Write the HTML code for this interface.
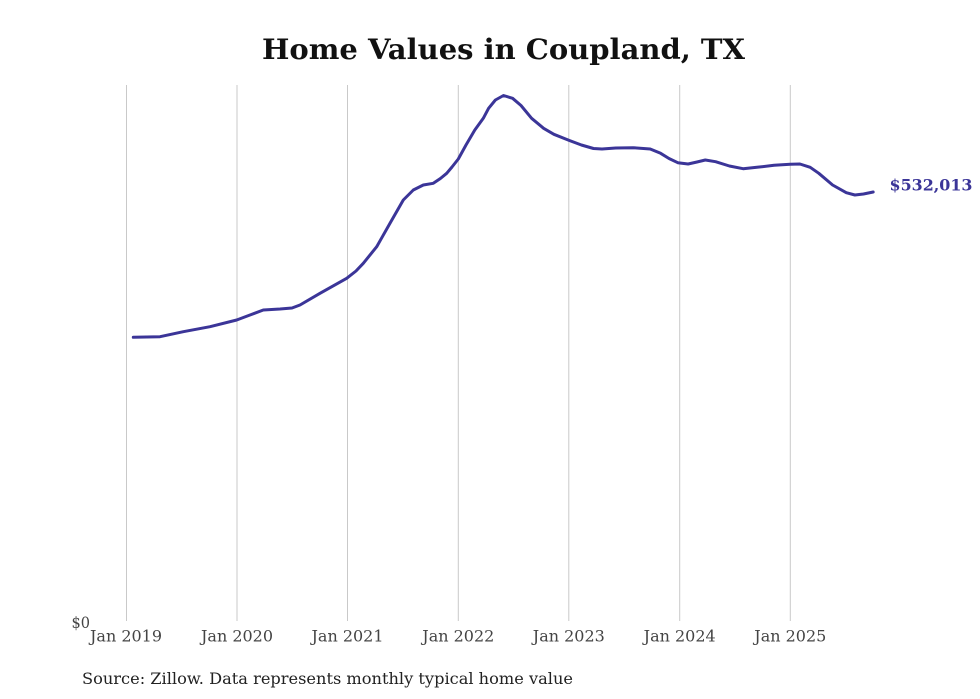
<!DOCTYPE html>
<html>
<head>
<meta charset="utf-8">
<style>
  html,body{margin:0;padding:0;background:#fff;}
  svg{display:block;}
  text{font-family:"DejaVu Serif","Liberation Serif",serif;}
</style>
</head>
<body>
<svg width="980" height="699" viewBox="0 0 980 699" xmlns="http://www.w3.org/2000/svg">
  <rect width="980" height="699" fill="#fff"/>
  <text x="503.5" y="59" font-size="28" font-weight="bold" text-anchor="middle" fill="#111" textLength="483" lengthAdjust="spacingAndGlyphs">Home Values in Coupland, TX</text>

  <g stroke="#c9c9c9" stroke-width="1">
    <line x1="126.5" y1="85" x2="126.5" y2="621"/>
    <line x1="237" y1="85" x2="237" y2="621"/>
    <line x1="347.5" y1="85" x2="347.5" y2="621"/>
    <line x1="458.3" y1="85" x2="458.3" y2="621"/>
    <line x1="568.8" y1="85" x2="568.8" y2="621"/>
    <line x1="679.7" y1="85" x2="679.7" y2="621"/>
    <line x1="790.3" y1="85" x2="790.3" y2="621"/>
  </g>

  <g font-size="15.5" fill="#444" text-anchor="middle">
    <text x="126" y="641.5" textLength="72" lengthAdjust="spacingAndGlyphs">Jan 2019</text>
    <text x="237" y="641.5" textLength="72" lengthAdjust="spacingAndGlyphs">Jan 2020</text>
    <text x="347.5" y="641.5" textLength="72" lengthAdjust="spacingAndGlyphs">Jan 2021</text>
    <text x="458.3" y="641.5" textLength="72" lengthAdjust="spacingAndGlyphs">Jan 2022</text>
    <text x="568.8" y="641.5" textLength="72" lengthAdjust="spacingAndGlyphs">Jan 2023</text>
    <text x="679.7" y="641.5" textLength="72" lengthAdjust="spacingAndGlyphs">Jan 2024</text>
    <text x="790.3" y="641.5" textLength="72" lengthAdjust="spacingAndGlyphs">Jan 2025</text>
  </g>
  <text x="71.5" y="628" font-size="15.5" fill="#444" textLength="18.5" lengthAdjust="spacingAndGlyphs">$0</text>

  <polyline fill="none" stroke="#3b3598" stroke-width="3" stroke-linejoin="round" stroke-linecap="round"
    points="133.3,337.3 160,336.7 183.3,331.7 210,326.7 236.7,320 250,315 263.3,310 280,309 292,308 300,305 320,293.3 346.7,278.3 356,271 363.3,263.3 376.7,246.7 390,223.3 403.3,200 413.3,190 423.3,185 433.3,183.3 440.4,178.5 446.7,173.3 452,167 458.3,159 466,145 474.8,130 483.3,118.3 488.6,108.3 495.4,100 503.5,95.5 512.6,98.3 521,105.5 531.6,118.3 543.6,128.3 553.9,134.3 569.4,140.5 581.4,145 593.5,148.5 602,149 615.8,148 633,147.7 650.2,149 660.6,153.3 669,158.5 677.8,162.7 688.1,164 697,162 705.3,160 715.6,161.7 729.4,166 743.1,168.7 756.9,167.3 774.1,165.3 790.3,164.3 799.9,164 810.2,167.3 818.8,173.3 832.6,185 846.3,192.7 854.9,195 863.5,194 873.2,192"/>

  <text x="889.5" y="190.5" font-size="15.5" font-weight="bold" fill="#3b3598" textLength="83" lengthAdjust="spacingAndGlyphs">$532,013</text>

  <text x="82" y="684" font-size="16" fill="#222" textLength="491" lengthAdjust="spacingAndGlyphs">Source: Zillow. Data represents monthly typical home value</text>
</svg>
</body>
</html>
